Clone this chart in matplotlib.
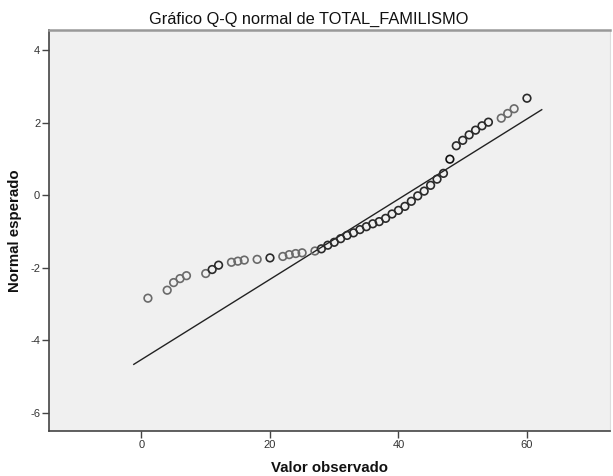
import matplotlib
matplotlib.use("Agg")
import matplotlib.pyplot as plt
import numpy as np

observed = [1, 4, 5, 6, 7, 10, 11, 12, 14, 15, 16, 18, 20, 22, 23, 24, 25,
            27, 28, 29, 30, 31, 32, 33, 34, 35, 36, 37, 38, 39, 40, 41, 42,
            43, 44, 45, 46, 47, 48, 49, 50, 51, 52, 53, 54, 56, 57, 58, 60]
expected = [-2.84, -2.62, -2.41, -2.30, -2.22, -2.16, -2.05, -1.93, -1.85,
            -1.82, -1.79, -1.77, -1.73, -1.69, -1.64, -1.61, -1.59,
            -1.54, -1.48, -1.38, -1.30, -1.20, -1.11, -1.04, -0.95, -0.87,
            -0.79, -0.73, -0.64, -0.52, -0.42, -0.31, -0.17, -0.02, 0.11,
            0.27, 0.44, 0.60, 0.99, 1.36, 1.51, 1.66, 1.79, 1.91, 2.01,
            2.12, 2.25, 2.38, 2.67]
# frequency weight (darkness) of each plotted case
weight = [1, 1, 1, 1, 1, 1, 2, 2, 1, 1, 1, 1, 2, 1, 1, 1, 1,
          1, 2, 2, 2, 2, 2, 2, 2, 2, 2, 2, 2, 2, 2, 2, 2,
          2, 2, 2, 2, 2, 3, 2, 2, 2, 2, 2, 2, 1, 1, 1, 2]

# Reference line parameters
line_mean = 41.0
line_sd = 9.05
line_range = [-1.2, 62.3]

xticks = [0, 20, 40, 60]
yticks = [-6, -4, -2, 0, 2, 4]

plt.rcParams['font.family'] = ['Liberation Sans', 'DejaVu Sans']
plt.rcParams['axes.unicode_minus'] = False

fig = plt.figure(figsize=(6.13, 4.76), dpi=100)
ax = fig.add_axes([0.0799, 0.0945, 0.916, 0.8425])
ax.set_facecolor('#f0f0f0')

lx = np.array(line_range)
ly = (lx - line_mean) / line_sd
ax.plot(lx, ly, color='#222222', lw=1.0, zorder=2)

cmap = {1: '#6a6a6a', 2: '#2a2a2a', 3: '#111111'}
colors = [cmap[w] for w in weight]
ax.scatter(observed, expected, s=30, facecolors='none', edgecolors=colors,
           linewidths=1.2, zorder=3)

ax.set_xlim(-14.4, 73.0)
ax.set_ylim(-6.5, 4.55)
ax.set_xticks(xticks)
ax.set_yticks(yticks)
ax.tick_params(axis='both', direction='out', length=4.8, width=1.0,
               color='#444444', labelsize=8, labelcolor='#333333', pad=1.5)

for side in ['left', 'bottom']:
    ax.spines[side].set_color('#444444')
    ax.spines[side].set_linewidth(1.2)
ax.spines['top'].set_color('#999999')
ax.spines['top'].set_linewidth(1.8)
ax.spines['right'].set_color('#dddddd')
ax.spines['right'].set_linewidth(0.8)

ax.set_xlabel('Valor observado', fontsize=10.8, fontweight='bold',
              color='#111111', labelpad=8)
ax.set_ylabel('Normal esperado', fontsize=10.8, fontweight='bold',
              color='#111111', labelpad=6)
ax.set_title('Gráfico Q-Q normal de TOTAL_FAMILISMO', fontsize=11.8,
             color='#111111', pad=4.7, x=(308 - 49) / 561)

fig.savefig('out.png', dpi=100)
